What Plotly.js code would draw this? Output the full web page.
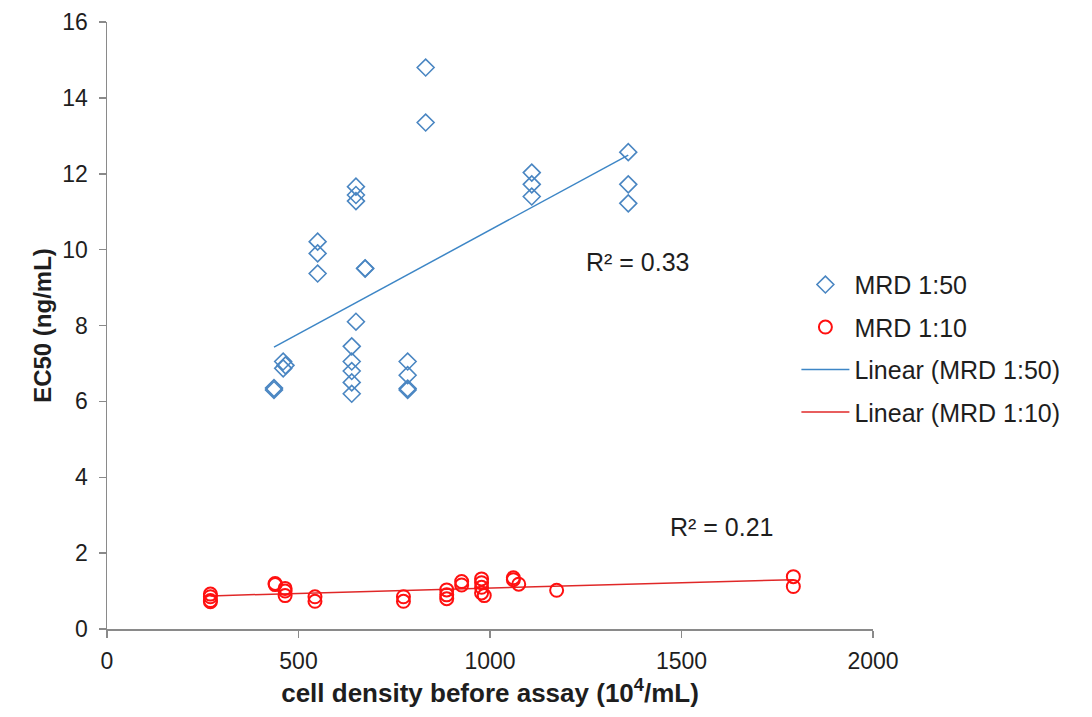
<!DOCTYPE html>
<html>
<head>
<meta charset="utf-8">
<script src="https://cdn.plot.ly/plotly-3.0.1.min.js"></script>
<style>html,body{margin:0;padding:0;background:#fff;}#chart{width:1092px;height:717px;}</style>
</head>
<body>
<div id="chart"></div>
<script>
// MRD 1:50 series (cell density, EC50)
const blueX = [436, 436, 460, 460, 466, 550, 550, 550, 639, 639, 639, 639, 639, 650, 650, 650, 650, 674, 674, 785, 785, 785, 785, 832, 832, 1109, 1109, 1109, 1361, 1361, 1361];
const blueY = [6.30, 6.35, 7.05, 6.87, 6.95, 10.21, 9.90, 9.37, 7.45, 7.05, 6.80, 6.50, 6.20, 11.66, 11.44, 11.28, 8.10, 9.51, 9.50, 7.05, 6.69, 6.34, 6.30, 14.80, 13.35, 12.03, 11.72, 11.40, 12.57, 11.72, 11.22];
// MRD 1:10 series
const redX = [270, 270, 270, 270, 439, 439, 465, 465, 465, 543, 543, 774, 774, 887, 887, 887, 926, 926, 978, 978, 978, 978, 985, 1061, 1061, 1075, 1174, 1792, 1792];
const redY = [0.92, 0.85, 0.75, 0.72, 1.20, 1.17, 1.07, 1.00, 0.88, 0.85, 0.73, 0.85, 0.73, 1.03, 0.90, 0.80, 1.16, 1.25, 1.32, 1.22, 1.10, 0.95, 0.88, 1.30, 1.35, 1.18, 1.02, 1.38, 1.12];
const seriesNames = ["MRD 1:50", "MRD 1:10"];
const r2Labels = ["R² = 0.33", "R² = 0.21"];
const xTicks = [0, 500, 1000, 1500, 2000];
const yTicks = [0, 2, 4, 6, 8, 10, 12, 14, 16];

function linfit(xs, ys) {
  const n = xs.length;
  const mx = xs.reduce((a, b) => a + b, 0) / n;
  const my = ys.reduce((a, b) => a + b, 0) / n;
  let sxy = 0, sxx = 0;
  for (let i = 0; i < n; i++) { sxy += (xs[i] - mx) * (ys[i] - my); sxx += (xs[i] - mx) ** 2; }
  const m = sxy / sxx, b = my - m * mx;
  const x0 = Math.min(...xs), x1 = Math.max(...xs);
  return { x: [x0, x1], y: [m * x0 + b, m * x1 + b] };
}
const fitBlue = linfit(blueX, blueY);
const fitRed = linfit(redX, redY);

const FONT = "Liberation Sans, Arial, sans-serif";
const TXT = "#1e1e1e";
const traces = [
  { x: fitBlue.x, y: fitBlue.y, name: "Linear (" + seriesNames[0] + ")", mode: "lines", type: "scatter", legendgroup: "c", legendrank: 3,
    line: { color: "#3D86C6", width: 1.5 } },
  { x: fitRed.x, y: fitRed.y, name: "Linear (" + seriesNames[1] + ")", mode: "lines", type: "scatter", legendgroup: "d", legendrank: 4,
    line: { color: "#E02828", width: 1.5 } },
  { x: blueX, y: blueY, name: seriesNames[0], mode: "markers", type: "scatter", legendgroup: "a", legendrank: 1,
    marker: { symbol: "diamond-open", size: 13, color: "#4A86C2", line: { width: 1.6, color: "#4A86C2" } } },
  { x: redX, y: redY, name: seriesNames[1], mode: "markers", type: "scatter", legendgroup: "b", legendrank: 2,
    marker: { symbol: "circle-open", size: 13, color: "#FF1010", line: { width: 2, color: "#FF1010" } } }
];

const layout = {
  width: 1092, height: 717,
  margin: { l: 107, r: 219, t: 22, b: 88 },
  paper_bgcolor: "#fff", plot_bgcolor: "#fff",
  font: { family: FONT, size: 22, color: TXT },
  showlegend: true,
  hovermode: false,
  xaxis: {
    range: [0, 2000], tickvals: xTicks, ticktext: xTicks.map(String),
    showgrid: false, zeroline: false, showline: true, linecolor: "#8a8a8a", linewidth: 1.5,
    ticks: "outside", ticklen: 7, tickcolor: "#8a8a8a", tickwidth: 1.5, ticklabelstandoff: 4,
    tickfont: { family: FONT, size: 23, color: TXT },
    title: { text: "<b>cell density before assay (10<sup>4</sup>/mL)</b>", font: { family: FONT, size: 26, color: TXT }, standoff: 10 }
  },
  yaxis: {
    range: [0, 16], tickvals: yTicks, ticktext: yTicks.map(String),
    showgrid: false, zeroline: false, showline: true, linecolor: "#8a8a8a", linewidth: 1.5,
    ticks: "outside", ticklen: 7, tickcolor: "#8a8a8a", tickwidth: 1.5, ticklabelstandoff: 6,
    tickfont: { family: FONT, size: 23, color: TXT },
    title: { text: "<b>EC50 (ng/mL)</b>", font: { family: FONT, size: 24, color: TXT }, standoff: 4 }
  },
  legend: {
    x: 0.9, y: 0.605, xanchor: "left", yanchor: "top",
    font: { family: FONT, size: 25, color: TXT },
    traceorder: "grouped", tracegroupgap: 7, itemwidth: 48,
    bgcolor: "rgba(255,255,255,0)"
  },
  annotations: [
    { x: 1386, y: 9.67, xref: "x", yref: "y", text: r2Labels[0], showarrow: false, font: { family: FONT, size: 25, color: TXT } },
    { x: 1606, y: 2.69, xref: "x", yref: "y", text: r2Labels[1], showarrow: false, font: { family: FONT, size: 25, color: TXT } }
  ]
};
Plotly.newPlot("chart", traces, layout, { displayModeBar: false, staticPlot: true });
</script>
</body>
</html>
